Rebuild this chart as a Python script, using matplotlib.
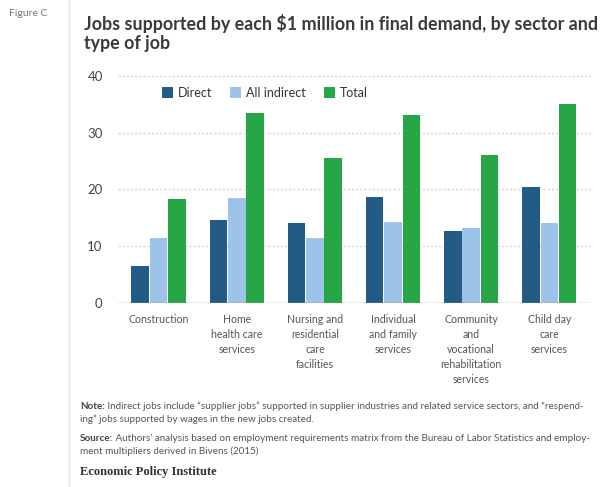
import numpy as np
import matplotlib.pyplot as plt
from matplotlib.lines import Line2D

plt.rcParams['font.family'] = ['Lato', 'DejaVu Sans']

sectors = ["Construction",
           "Home\nhealth care\nservices",
           "Nursing and\nresidential\ncare\nfacilities",
           "Individual\nand family\nservices",
           "Community\nand\nvocational\nrehabilitation\nservices",
           "Child day\ncare\nservices"]
direct = [6.5, 14.6, 14.0, 18.7, 12.7, 20.5]
indirect = [11.4, 18.5, 11.4, 14.3, 13.1, 14.1]
total = [18.3, 33.5, 25.5, 33.2, 26.1, 35.0]
series_names = ["Direct", "All indirect", "Total"]
colors = ["#215b86", "#9dc4e8", "#27a646"]

fig = plt.figure(figsize=(6.03, 4.87), dpi=100)
ax = fig.add_axes([0.1957, 0.3784, 0.7827, 0.4656])

x = np.arange(len(sectors))
w = 0.225
for off, vals, name, c in zip([-0.235, 0, 0.235], [direct, indirect, total], series_names, colors):
    ax.bar(x + off, vals, width=w, color=c, label=name, zorder=3)

ax.set_xlim(-0.52, 5.52)
ax.set_ylim(0, 40)
ax.set_yticks([0, 10, 20, 30, 40])
for yv in [10, 20, 30, 40]:
    ax.axhline(yv, color="#d6d6d6", lw=1, ls=(0, (1.5, 1.5)), zorder=1, clip_on=False)
ax.axhline(0, color="#999999", lw=1, zorder=4)
for s in ax.spines.values():
    s.set_visible(False)
ax.tick_params(axis='y', length=0, pad=11, labelsize=9.5, labelcolor="#444444")
ax.tick_params(axis='x', length=0, pad=8, labelsize=7.6, labelcolor="#555555")
ax.set_xticks(x)
ax.set_xticklabels(sectors, linespacing=1.45, va='top')

leg = ax.legend(loc='center left', bbox_to_anchor=(0.093, 0.925), frameon=False, ncol=3,
                fontsize=9, handlelength=0.9, handleheight=0.9, handletextpad=0.4,
                columnspacing=1.4, borderpad=0, borderaxespad=0)
for t in leg.get_texts():
    t.set_color("#333333")

# header
fig.text(0.015, 0.972, "Figure C", fontsize=7.5, color="#777777", va='center')
fig.text(0.139, 0.972, "Jobs supported by each $1 million in final demand, by sector and\ntype of job",
         fontsize=12.9, fontweight='bold', color="#3a3a3a", va='top', linespacing=1.2)
fig.add_artist(Line2D([0.114, 0.114], [0.0, 1.0], color="#e2e2e2", lw=1))

fs_note = 7.1


def note_line(y, label, body):
    # bold label, then the regular text right after it on the same baseline
    lab = fig.text(0.133, y, label, fontsize=fs_note, fontweight='bold', color="#444444", va='baseline')
    plt.annotate(" " + body, xy=(1, 0), xycoords=lab, fontsize=fs_note, color="#555555",
                 va='bottom', annotation_clip=False)


note_line(0.160, "Note:", "Indirect jobs include “supplier jobs” supported in supplier industries and related service sectors, and “respend-")
fig.text(0.133, 0.133, "ing” jobs supported by wages in the new jobs created.",
         fontsize=fs_note, color="#555555", va='baseline')
note_line(0.095, "Source:", "Authors' analysis based on employment requirements matrix from the Bureau of Labor Statistics and employ-")
fig.text(0.133, 0.067, "ment multipliers derived in Bivens (2015)",
         fontsize=fs_note, color="#555555", va='baseline')
fig.text(0.133, 0.031, "Economic Policy Institute", fontsize=9, fontweight='bold',
         family='Liberation Serif', color="#333333", va='center')

fig.savefig("out.png", dpi=100)
